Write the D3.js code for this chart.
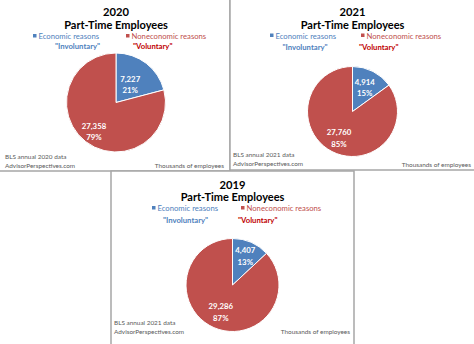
<!DOCTYPE html>
<html>
<head>
<meta charset="utf-8">
<script src="https://cdn.jsdelivr.net/npm/d3@7"></script>
<style>
  html, body { margin: 0; padding: 0; background: #fff; }
  svg { display: block; font-family: Lato, "Open Sans", sans-serif; }
</style>
</head>
<body>
<svg id="chart" width="474" height="344"></svg>
<script>
// ---- data ----
const years = ["2020", "2021", "2019"];
const categories = ["Economic reasons", "Noneconomic reasons"];
const categoryTags = ["\"Involuntary\"", "\"Voluntary\""];
const economic = [7227, 4914, 4407];
const noneconomic = [27358, 27760, 29286];
const sourceNotes = ["BLS annual 2020 data", "BLS annual 2021 data", "BLS annual 2021 data"];
const siteNote = "AdvisorPerspectives.com";
const unitNote = "Thousands of employees";
const title = "Part-Time Employees";

// ---- layout (not data) ----
const panels = [
  { x0: -2, y0: -2, x1: 230, y1: 171, cx: 116, cy: 102.5, r: 49.5,
    yearY: 16, titleY: 29, legY: 39, tagY: 48.5,
    sq: [-83, 10], tag: [-61, 17], lab: [0.47, 0.73],
    footX: 5, footY: 168, unitX: 224, unitY: 168 },
  { x0: 230, y0: -2, x1: 476, y1: 170, cx: 352.5, cy: 111.5, r: 45,
    yearY: 16, titleY: 29, legY: 38.5, tagY: 49.5,
    sq: [-82.5, 8.5], tag: [-70, 6.5], lab: [0.6, 0.66],
    footX: 233, footY: 166, unitX: 471, unitY: 166.5 },
  { x0: 111, y0: 171, x1: 354, y1: 346, cx: 232.5, cy: 285, r: 46.5,
    yearY: 189, titleY: 201, legY: 211, tagY: 222.5,
    sq: [-80.5, 8.5], tag: [-69.5, 5.5], lab: [0.69, 0.63],
    footX: 114, footY: 334, unitX: 350, unitY: 334 }
];
const colors = ["#4F81BD", "#C0504D"];
const tagColors = ["#4F81BD", "#C00000"];

const svg = d3.select("#chart");
const fmt = d3.format(",");
const pctFmt = d3.format(".0%");

const pie = d3.pie().sort(null).value(d => d);

panels.forEach((p, i) => {
  const g = svg.append("g");
  const vals = [economic[i], noneconomic[i]];
  const total = d3.sum(vals);
  const mx = p.cx;

  g.append("rect")
    .attr("x", p.x0).attr("y", p.y0)
    .attr("width", p.x1 - p.x0).attr("height", p.y1 - p.y0)
    .attr("fill", "#fff").attr("stroke", "#a6a6a6").attr("stroke-width", 1.5);

  g.append("text").attr("x", mx).attr("y", p.yearY)
    .attr("text-anchor", "middle").attr("font-weight", "bold")
    .attr("font-size", 11.2).attr("fill", "#000").text(years[i]);
  g.append("text").attr("x", mx).attr("y", p.titleY)
    .attr("text-anchor", "middle").attr("font-weight", "bold")
    .attr("font-size", 11).attr("fill", "#000").text(title);

  // legend
  categories.forEach((c, k) => {
    g.append("rect").attr("x", mx + p.sq[k]).attr("y", p.legY - 5)
      .attr("width", 3.5).attr("height", 3.5).attr("fill", colors[k]);
    g.append("text").attr("x", mx + p.sq[k] + 5.5).attr("y", p.legY)
      .attr("font-size", 7.7).attr("fill", colors[k]).text(c);
    g.append("text").attr("x", mx + p.tag[k]).attr("y", p.tagY)
      .attr("font-size", 7.7).attr("font-weight", "bold")
      .attr("fill", tagColors[k]).text(categoryTags[k]);
  });

  // pie
  const arcs = pie(vals);
  const arc = d3.arc().innerRadius(0).outerRadius(p.r);
  const pg = g.append("g").attr("transform", `translate(${p.cx},${p.cy})`);
  pg.selectAll("path").data(arcs).join("path")
    .attr("d", arc).attr("fill", (d, k) => colors[k])
    .attr("stroke", "#fff").attr("stroke-width", 1);

  arcs.forEach((d, k) => {
    const lr = p.r * p.lab[k];
    const c = d3.arc().innerRadius(lr).outerRadius(lr).centroid(d);
    const t = pg.append("text").attr("text-anchor", "middle")
      .attr("font-size", 7.8).attr("font-weight", "bold").attr("fill", "#fff");
    t.append("tspan").attr("x", c[0]).attr("y", c[1] - 2.5).text(fmt(vals[k]));
    t.append("tspan").attr("x", c[0]).attr("y", c[1] + 9).text(pctFmt(vals[k] / total));
  });

  // footer
  g.append("text").attr("x", p.footX).attr("y", p.footY - 9)
    .attr("font-size", 6.4).attr("fill", "#595959").text(sourceNotes[i]);
  g.append("text").attr("x", p.footX).attr("y", p.footY)
    .attr("font-size", 6.4).attr("fill", "#595959").text(siteNote);
  g.append("text").attr("x", p.unitX).attr("y", p.unitY)
    .attr("text-anchor", "end")
    .attr("font-size", 6.4).attr("fill", "#595959").text(unitNote);
});
</script>
</body>
</html>
